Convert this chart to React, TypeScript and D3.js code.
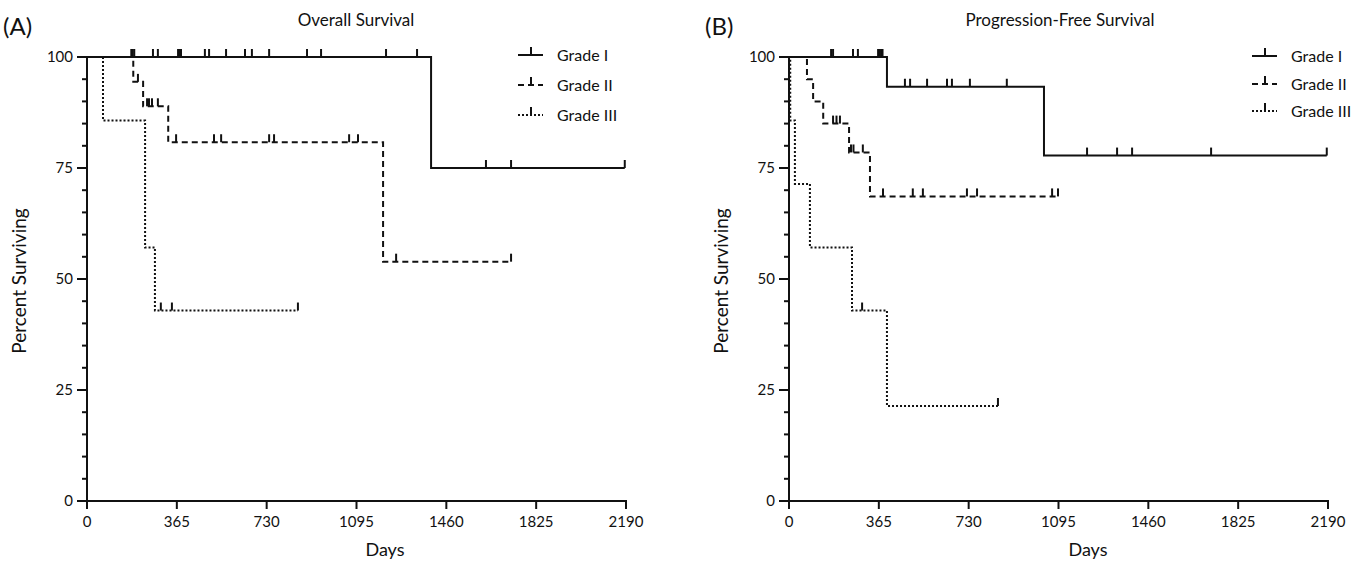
import React from "react";
import * as d3 from "d3";

// ---------- DATA ----------
const xTicks = [0, 365, 730, 1095, 1460, 1825, 2190];
const yMajorTicks = [0, 25, 50, 75, 100];
const yMinorTicks = [5, 10, 15, 20, 30, 35, 40, 45, 55, 60, 65, 70, 80, 85, 90, 95];
const seriesNames = ["Grade I", "Grade II", "Grade III"];
const panelTitles = ["Overall Survival", "Progression-Free Survival"];
const panelLetters = ["(A)", "(B)"];

// Panel A – Overall survival
const osG1Days = [0, 1398];
const osG1Levels = [100, 75];
const osG1Censor = [180, 186, 192, 268, 288, 370, 376, 382, 479, 496, 565, 642, 670, 740, 894, 951, 1215, 1341, 1621, 1723, 2185];
const osG1End = 2185;

const osG2Days = [0, 188, 228, 330, 1203];
const osG2Levels = [100, 94.4, 88.9, 80.8, 53.9];
const osG2Censor = [207, 244, 252, 264, 288, 362, 516, 545, 740, 760, 1065, 1101, 1256, 1723];
const osG2End = 1723;

const osG3Days = [0, 65, 236, 276];
const osG3Levels = [100, 85.7, 57.1, 42.9];
const osG3Censor = [300, 345, 857];
const osG3End = 857;

// Panel B – Progression-free survival
const pfsG1Days = [0, 398, 1036];
const pfsG1Levels = [100, 93.3, 77.8];
const pfsG1Censor = [171, 179, 260, 280, 362, 368, 374, 380, 471, 492, 561, 642, 662, 735, 885, 1211, 1333, 1394, 1715, 2185];
const pfsG1End = 2185;

const pfsG2Days = [0, 73, 98, 139, 244, 329];
const pfsG2Levels = [100, 95, 90, 85, 78.5, 68.6];
const pfsG2Censor = [179, 193, 207, 252, 262, 300, 382, 503, 544, 723, 764, 1069, 1093];
const pfsG2End = 1093;

const pfsG3Days = [0, 5, 24, 85, 256, 398];
const pfsG3Levels = [100, 85.7, 71.4, 57.1, 42.9, 21.4];
const pfsG3Censor = [297, 849];
const pfsG3End = 849;

// ---------- STYLE ----------
const FONT = "Lato, 'Open Sans', sans-serif";
const dashes = [null, "6,4", "2,2"];

type Series = { days: number[]; levels: number[]; censor: number[]; end: number };

const panels: { series: Series[]; x0: number; legendX: number; legendYs: number[]; titleX: number; daysX: number }[] = [
  {
    x0: 87,
    legendX: 518,
    legendYs: [55, 85, 115],
    titleX: 356,
    daysX: 385,
    series: [
      { days: osG1Days, levels: osG1Levels, censor: osG1Censor, end: osG1End },
      { days: osG2Days, levels: osG2Levels, censor: osG2Censor, end: osG2End },
      { days: osG3Days, levels: osG3Levels, censor: osG3Censor, end: osG3End },
    ],
  },
  {
    x0: 789,
    legendX: 1252,
    legendYs: [56, 84, 111],
    titleX: 1060,
    daysX: 1088,
    series: [
      { days: pfsG1Days, levels: pfsG1Levels, censor: pfsG1Censor, end: pfsG1End },
      { days: pfsG2Days, levels: pfsG2Levels, censor: pfsG2Censor, end: pfsG2End },
      { days: pfsG3Days, levels: pfsG3Levels, censor: pfsG3Censor, end: pfsG3End },
    ],
  },
];

const PLOT_W = 539;
const Y_TOP = 57;
const Y_BOT = 501;

function levelAt(s: Series, t: number) {
  let v = s.levels[0];
  for (let i = 0; i < s.days.length; i++) if (s.days[i] <= t) v = s.levels[i];
  return v;
}

function Panel({ idx }: { idx: number }) {
  const p = panels[idx];
  const x = d3.scaleLinear().domain([0, 2190]).range([p.x0, p.x0 + PLOT_W]);
  const y = d3.scaleLinear().domain([0, 100]).range([Y_BOT, Y_TOP]);
  const line = d3
    .line<[number, number]>()
    .x((d) => x(d[0]))
    .y((d) => y(d[1]))
    .curve(d3.curveStepAfter);

  return (
    <g>
      <text x={p.x0 - 84} y={35} fontSize={24} fontFamily={FONT} fill="#111">
        {panelLetters[idx]}
      </text>
      <text x={p.titleX} y={26} fontSize={17} textAnchor="middle" fontFamily={FONT} fill="#111">
        {panelTitles[idx]}
      </text>

      {/* axes */}
      <line x1={p.x0} x2={p.x0} y1={Y_TOP - 1} y2={Y_BOT + 1} stroke="#111" strokeWidth={2} />
      <line x1={p.x0 - 1} x2={p.x0 + PLOT_W + 1} y1={Y_BOT} y2={Y_BOT} stroke="#111" strokeWidth={2} />
      {yMajorTicks.map((t) => (
        <g key={"ym" + t}>
          <line x1={p.x0 - 10} x2={p.x0} y1={y(t)} y2={y(t)} stroke="#111" strokeWidth={2} />
          <text x={p.x0 - 14} y={y(t) + 5} fontSize={15} textAnchor="end" fontFamily={FONT} fill="#111">
            {t}
          </text>
        </g>
      ))}
      {yMinorTicks.map((t) => (
        <line key={"yn" + t} x1={p.x0 - 5} x2={p.x0} y1={y(t)} y2={y(t)} stroke="#111" strokeWidth={2} />
      ))}
      {xTicks.map((t) => (
        <g key={"x" + t}>
          <line x1={x(t)} x2={x(t)} y1={Y_BOT} y2={Y_BOT + 8} stroke="#111" strokeWidth={2} />
          <text x={x(t)} y={527} fontSize={15} textAnchor="middle" fontFamily={FONT} fill="#111">
            {t}
          </text>
        </g>
      ))}
      <text x={p.daysX} y={556} fontSize={18} textAnchor="middle" fontFamily={FONT} fill="#111">
        Days
      </text>
      <text
        transform={`translate(${p.x0 - 61},${281}) rotate(-90)`}
        fontSize={19}
        textAnchor="middle"
        fontFamily={FONT}
        fill="#111"
      >
        Percent Surviving
      </text>

      {/* curves */}
      {p.series.map((s, si) => {
        const pts: [number, number][] = s.days.map((d, i) => [d, s.levels[i]] as [number, number]);
        pts.push([s.end, s.levels[s.levels.length - 1]]);
        return (
          <g key={"s" + si}>
            <path
              d={line(pts) || ""}
              fill="none"
              stroke="#111"
              strokeWidth={2}
              strokeDasharray={dashes[si] || undefined}
            />
            {s.censor.map((c, ci) => {
              const v = levelAt(s, c);
              return (
                <line
                  key={ci}
                  x1={x(c)}
                  x2={x(c)}
                  y1={y(v)}
                  y2={y(v) - 8}
                  stroke="#111"
                  strokeWidth={2}
                />
              );
            })}
          </g>
        );
      })}

      {/* legend */}
      {seriesNames.map((n, i) => {
        const ly = p.legendYs[i];
        return (
          <g key={"l" + i}>
            <line
              x1={p.legendX}
              x2={p.legendX + 25}
              y1={ly}
              y2={ly}
              stroke="#111"
              strokeWidth={2}
              strokeDasharray={dashes[i] || undefined}
            />
            <line x1={p.legendX + 13} x2={p.legendX + 13} y1={ly} y2={ly - 8} stroke="#111" strokeWidth={2} />
            <text x={p.legendX + 39} y={ly + 6} fontSize={16} fontFamily={FONT} fill="#111">
              {n}
            </text>
          </g>
        );
      })}
    </g>
  );
}

export default function App() {
  return (
    <svg width={1356} height={566} style={{ display: "block", position: "absolute", left: 0, top: 0 }}>
      <rect width={1356} height={566} fill="#fff" />
      <Panel idx={0} />
      <Panel idx={1} />
    </svg>
  );
}
